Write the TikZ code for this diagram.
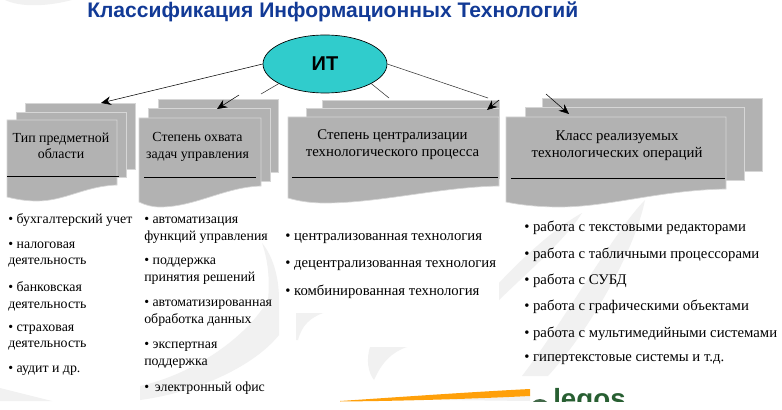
\documentclass[tikz,border=0pt]{standalone}
\usepackage{fontspec}
\setmainfont{Liberation Serif}
\newfontfamily\headfont{Liberation Sans}
\usepackage{xcolor}
\usepackage{tikz}
\usetikzlibrary{positioning,arrows.meta,calc,shapes.geometric}
\definecolor{titleblue}{RGB}{18,58,150}
\definecolor{ovalteal}{RGB}{48,204,204}
\definecolor{sheetgrey}{RGB}{178,178,178}
\definecolor{sheetedge}{RGB}{214,214,214}
\definecolor{smudge}{RGB}{241,241,241}
\definecolor{swish}{RGB}{255,160,10}
\definecolor{logogreen}{RGB}{40,95,50}
\tikzset{
  sheet/.style ={draw=sheetedge, fill=sheetgrey, line width=0.5pt},
  head/.style  ={align=center, font=\fontsize{11.1}{13}\selectfont, inner sep=0pt, yshift=-0.5pt},
  heads/.style ={head, font=\fontsize{10.4}{12.4}\selectfont},
  item/.style  ={align=left, anchor=west, font=\fontsize{11.05}{12.4}\selectfont, inner sep=0pt, yshift=-1.1pt},
  items/.style ={item, font=\fontsize{10.4}{12.4}\selectfont},
  ar/.style    ={-{Stealth[length=7.5pt,width=6.5pt,inset=2.5pt]}, draw=black, line width=0.4pt},
  ln/.style    ={draw=black!80, line width=0.4pt},
}
\begin{document}
\begin{tikzpicture}[x=0.75pt,y=-0.75pt]
\useasboundingbox (0,0) rectangle (782,410);
\fill[white] (0,0) rectangle (782,410);

% faint strokes behind the lists
\fill[smudge] (5,0) .. controls (20,7) and (45,7) .. (72,0) -- cycle;
\fill[smudge] (262,243) .. controls (272,255) and (279,275) .. (279,300) -- (279,335) .. controls (255,365) and (200,392) .. (140,400) -- (140,386) .. controls (190,375) and (245,340) .. (268,300) .. controls (270,280) and (268,260) .. (262,243) -- cycle;
\fill[smudge] (296,313) -- (323,313) .. controls (310,318) and (302,325) .. (298,340) -- (296,340) -- cycle;
\fill[smudge] (370,347) -- (407,347) .. controls (392,352) and (382,362) .. (374,380) .. controls (368,372) and (366,360) .. (370,347) -- cycle;
\fill[smudge] (645,200) .. controls (615,230) and (565,320) .. (522,376) -- (548,376) .. controls (590,330) and (635,250) .. (645,200) -- cycle;
\fill[smudge] (499,283) .. controls (530,250) and (560,225) .. (582,213) .. controls (565,240) and (530,270) .. (499,300) -- cycle;
\fill[smudge] (0,388) .. controls (20,393) and (40,398) .. (52,401) -- (0,401) -- cycle;
\fill[smudge] (440,400) -- (530,396) -- (530,401) -- cycle;

% bottom swish and cut off logo
\fill[swish] (340,401) .. controls (400,397) and (470,392) .. (530,389) -- (530,396) .. controls (470,399) and (400,401) .. (340,401.5) -- cycle;
\begin{scope}
\clip (530,380) rectangle (640,401);
\fill[logogreen!70!gray] (540,409) circle (10);
\node[inner sep=0pt,anchor=base west,text=logogreen,font=\headfont\bfseries\fontsize{20.8}{24}\selectfont] (logo) at (553,408) {legos};
\end{scope}

\node[anchor=base west,inner sep=0pt,text=titleblue,font=\headfont\bfseries\fontsize{15.8}{18}\selectfont] (title) at (87,18) {Классификация Информационных Технологий};

% four stacks of sheets
\draw[sheet] (25,103) rectangle (135,169);
\draw[sheet] (16,112) rectangle (126,177);
\draw[sheet] (7,120) -- (117,120) -- (117,185) .. controls (85,186) and (65,201) .. (37,201) .. controls (25,201) and (15,199) .. (7,197) -- cycle;
\draw[sheet] (158,99) rectangle (278,172);
\draw[sheet] (148,108) rectangle (270,181);
\draw[sheet] (139,118) -- (261,118) -- (261,186) .. controls (225,187) and (195,207) .. (160,207) .. controls (152,207) and (145,205) .. (139,202) -- cycle;
\draw[sheet] (322,100) rectangle (499,170);
\draw[sheet] (306,108) rectangle (499,178);
\draw[sheet] (288,117) -- (499,117) -- (499,186) .. controls (440,187) and (380,203) .. (325,203) .. controls (310,203) and (298,201) .. (288,198) -- cycle;
\draw[sheet] (542,98) rectangle (762,171);
\draw[sheet] (525,107) rectangle (744,180);
\draw[sheet] (506,117) -- (726,117) -- (726,189) .. controls (660,190) and (610,207) .. (559,207) .. controls (540,207) and (520,205) .. (506,202) -- cycle;

\node[heads] (sheetA) at (61,145) {Тип предметной\\области};
\node[heads] (sheetB) at (197.5,146) {Степень охвата\\задач управления};
\node[head] (sheetC) at (392.5,144) {Степень централизации\\технологического процесса};
\node[head] (sheetD) at (617,145) {Класс реализуемых\\технологических операций};

\draw[ln,draw=black] (7,176) -- (119,176);
\draw[ln,draw=black] (144,177) -- (256,177);
\draw[ln,draw=black] (292,177) -- (498,177);
\draw[ln,draw=black] (511,178) -- (725,178);

% oval and its broken connectors
\node[ellipse,draw=black,fill=ovalteal,line width=0.5pt,minimum width=124pt*0.75,minimum height=58pt*0.75,inner sep=0pt,font=\headfont\bfseries\fontsize{15}{20}\selectfont] (it) at (325,64) {ИТ};
\coordinate (endA) at (101,103);
\coordinate (gapB) at (261,94);
\coordinate (startB) at (239,95);
\coordinate (endB) at (217,109);
\coordinate (gapD) at (389,98);
\coordinate (startD) at (546,94);
\coordinate (endD) at (569,114);
\coordinate (gapC) at (488,98);
\coordinate (startC) at (499,100);
\coordinate (endC) at (487,110);
\draw[ar] (it.west) -- (endA);
\draw[ln] (it.203) -- (gapB);
\draw[ar] (startB) -- (endB);
\draw[ln] (it.337) -- (gapD);
\draw[ar] (startD) -- (endD);
\draw[ln] (it.east) -- (gapC);
\draw[ar] (startC) -- (endC);

% lists
\node[items] (a1) at (8,219) {• бухгалтерский учет};
\node[items] (a2) at (8,253) {• налоговая\\деятельность};
\node[items] (a3) at (8,295) {• банковская\\деятельность};
\node[items] (a4) at (8,336) {• страховая\\деятельность};
\node[items] (a5) at (8,369) {• аудит и др.};

\node[items] (b1) at (144,229) {• автоматизация\\функций управления};
\node[items] (b2) at (144,270) {• поддержка\\принятия решений};
\node[items] (b3) at (144,312) {• автоматизированная\\обработка данных};
\node[items] (b4) at (144,354) {• экспертная\\поддержка};
\node[items] (b5) at (144,387) {•\, электронный офис};

\node[item] (c1) at (285,237) {• централизованная технология};
\node[item] (c2) at (285,264) {• децентрализованная технология};
\node[item] (c3) at (285,290) {• комбинированная технология};

\node[item] (d1) at (524,226) {• работа с текстовыми редакторами};
\node[item] (d2) at (524,253) {• работа с табличными процессорами};
\node[item] (d3) at (524,279) {• работа с СУБД};
\node[item] (d4) at (524,305) {• работа с графическими объектами};
\node[item] (d5) at (524,332) {• работа с мультимедийными системами};
\node[item] (d6) at (524,358) {• гипертекстовые системы и т.д.};
\end{tikzpicture}
\end{document}
